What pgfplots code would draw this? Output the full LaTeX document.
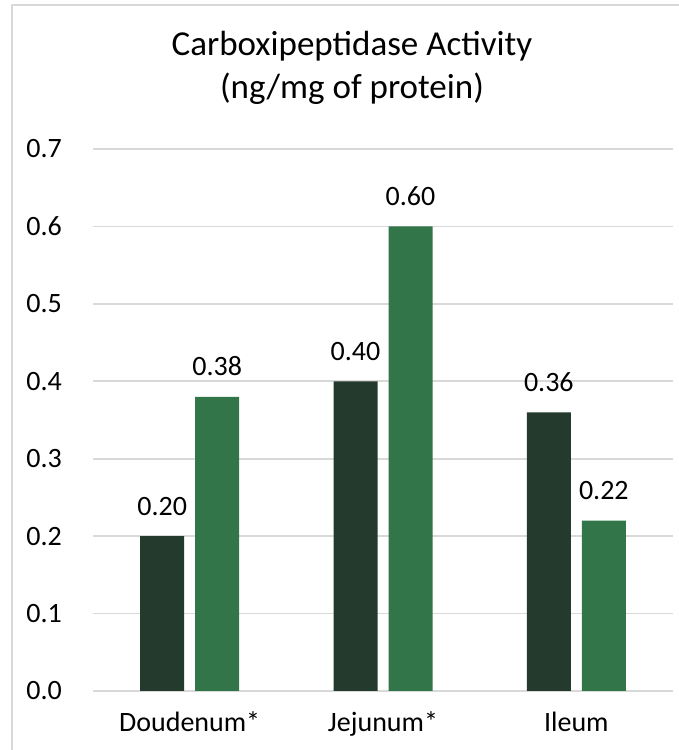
\documentclass[border=0pt]{standalone}
\usepackage{pgfplots}
\pgfplotsset{compat=1.18}
\usepackage{fontspec}
\setmainfont{Carlito}
\definecolor{darkbar}{HTML}{243A2D}
\definecolor{greenbar}{HTML}{317548}
\definecolor{gridgray}{HTML}{D9D9D9}
\pgfkeys{/pgf/number format/assume math mode=true}

\begin{document}
\begin{tikzpicture}
\useasboundingbox (0,0) rectangle (679pt,750pt);
% chart frame (left and top edges visible)
\draw[gridgray, line width=2pt] (12pt,-5pt) -- (12pt,745pt) -- (690pt,745pt);
\node[font=\fontsize{35}{42}\selectfont, anchor=base] at (352pt,694pt) {Carboxipeptidase Activity};
\node[font=\fontsize{35}{42}\selectfont, anchor=base] at (352pt,651pt) {(ng/mg of protein)};
\begin{axis}[
  at={(93pt,59pt)}, anchor=south west,
  scale only axis, width=580pt, height=542pt,
  ymin=0, ymax=0.7, ytick={0,0.1,...,0.7},
  xmin=-0.5, xmax=2.5, xtick={0,1,2},
  xticklabels={Doudenum*, Jejunum*, Ileum},
  ybar=11pt, bar width=44pt,
  axis line style={draw=none},
  major tick length=0pt,
  ymajorgrids, grid style={draw=gridgray, line width=1.6pt},
  yticklabel={\pgfmathprintnumber[fixed,fixed zerofill,precision=1]{\tick}},
  yticklabel style={anchor=east, inner sep=0pt, xshift=-31pt, font=\fontsize{28}{34}\selectfont},
  xticklabel style={anchor=base, inner sep=0pt, yshift=-41pt, font=\fontsize{28}{34}\selectfont},
  nodes near coords={\pgfmathprintnumber[fixed,fixed zerofill,precision=2]{\pgfplotspointmeta}},
  nodes near coords style={anchor=base, inner sep=0pt, yshift=21pt, font=\fontsize{28}{34}\selectfont, text=black},
]
\addplot[draw=none, fill=darkbar] coordinates {(0,0.20) (1,0.40) (2,0.36)};
\addplot[draw=none, fill=greenbar] coordinates {(0,0.38) (1,0.60) (2,0.22)};
\end{axis}
\end{tikzpicture}
\end{document}
